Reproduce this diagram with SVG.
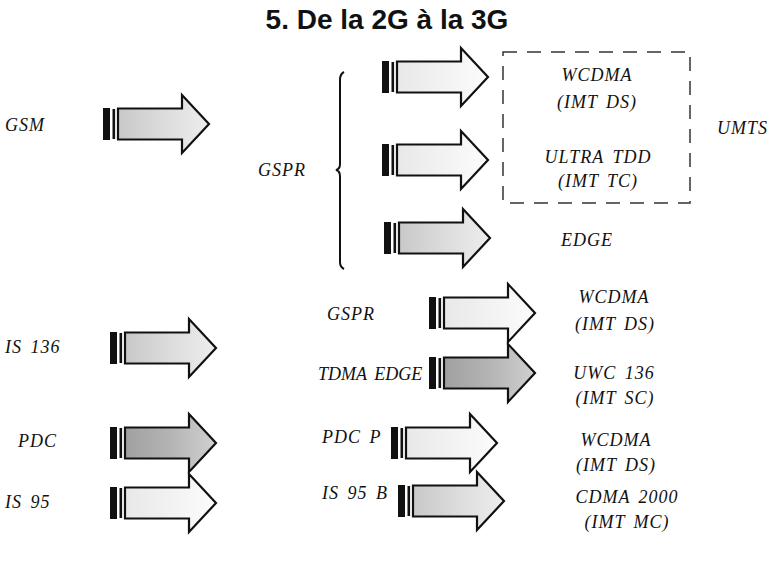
<svg xmlns="http://www.w3.org/2000/svg" xmlns:xlink="http://www.w3.org/1999/xlink" width="774" height="565" viewBox="0 0 774 565">
<style>
.t{font-family:'Liberation Serif','DejaVu Serif',serif;font-style:italic;font-size:18px;letter-spacing:1px;word-spacing:3px;fill:#111}
.m{text-anchor:middle}
.title{font-family:'Liberation Sans',Arial,sans-serif;font-weight:bold;font-size:28px;fill:#111;text-anchor:middle}
.body{stroke:#111;stroke-width:2.2;stroke-linejoin:miter}
</style>
<defs>
<linearGradient id="gLight" x1="0" y1="0" x2="1" y2="0">
<stop offset="0" stop-color="#c8c8c8"/><stop offset="0.5" stop-color="#dcdcdc"/><stop offset="1" stop-color="#ededed"/>
</linearGradient>
<linearGradient id="gWhite" x1="0" y1="0" x2="1" y2="0">
<stop offset="0" stop-color="#e8e8e8"/><stop offset="0.5" stop-color="#f2f2f2"/><stop offset="1" stop-color="#fcfcfc"/>
</linearGradient>
<linearGradient id="gDark" x1="0" y1="0" x2="1" y2="0">
<stop offset="0" stop-color="#a0a0a0"/><stop offset="0.5" stop-color="#b4b4b4"/><stop offset="1" stop-color="#d0d0d0"/>
</linearGradient>
<g id="tail">
<rect x="0" y="-16" width="7" height="32" fill="#111"/>
<rect x="9.5" y="-15" width="2.6" height="30" fill="#111"/>
</g>
<path id="body" class="body" d="M15,-15.5 H79 V-29 L106,0 L79,29 V15.5 H15 Z"/>
</defs>
<rect width="774" height="565" fill="#fff"/>
<text class="title" x="387" y="29">5. De la 2G à la 3G</text>

<g id="connectors">
<g id="arrow-gsm" transform="translate(103,124)"><use xlink:href="#body" fill="url(#gLight)"/><use xlink:href="#tail"/></g>
<g id="arrow-wcdma1" transform="translate(382,77)"><use xlink:href="#body" fill="url(#gWhite)"/><use xlink:href="#tail"/></g>
<g id="arrow-ultra" transform="translate(382,160)"><use xlink:href="#body" fill="url(#gWhite)"/><use xlink:href="#tail"/></g>
<g id="arrow-edge" transform="translate(384,238)"><use xlink:href="#body" fill="url(#gLight)"/><use xlink:href="#tail"/></g>
<g id="arrow-wcdma2" transform="translate(429,313)"><use xlink:href="#body" fill="url(#gWhite)"/><use xlink:href="#tail"/></g>
<g id="arrow-uwc" transform="translate(429,373)"><use xlink:href="#body" fill="url(#gDark)"/><use xlink:href="#tail"/></g>
<g id="arrow-is136" transform="translate(110,348)"><use xlink:href="#body" fill="url(#gLight)"/><use xlink:href="#tail"/></g>
<g id="arrow-pdc" transform="translate(110,443)"><use xlink:href="#body" fill="url(#gDark)"/><use xlink:href="#tail"/></g>
<g id="arrow-is95" transform="translate(110,503)"><use xlink:href="#body" fill="url(#gWhite)"/><use xlink:href="#tail"/></g>
<g id="arrow-wcdma3" transform="translate(391,443)"><use xlink:href="#body" fill="url(#gWhite)"/><use xlink:href="#tail"/></g>
<g id="arrow-cdma" transform="translate(398,501)"><use xlink:href="#body" fill="url(#gLight)"/><use xlink:href="#tail"/></g>
<path id="brace" d="M344,72 Q340,74 340,80 V164 Q340,169 336,170 Q340,171 340,176 V262 Q340,267 344,269" fill="none" stroke="#111" stroke-width="2"/>
</g>

<g id="umts-box">
<rect x="503" y="52" width="187" height="151" fill="none" stroke="#333" stroke-width="1.5" stroke-dasharray="14,10"/>
<text class="t m" x="597" y="81">WCDMA</text>
<text class="t m" x="597" y="108">(IMT DS)</text>
<text class="t m" x="598" y="163">ULTRA TDD</text>
<text class="t m" x="598" y="187">(IMT TC)</text>
</g>
<g id="n-umts"><text class="t" x="717" y="134">UMTS</text></g>
<g id="n-gsm"><text class="t" x="5" y="131">GSM</text></g>
<g id="n-gspr1"><text class="t" x="258" y="176">GSPR</text></g>
<g id="n-edge"><text class="t m" x="587" y="246">EDGE</text></g>

<g id="n-gspr2"><text class="t" x="327" y="320">GSPR</text></g>
<g id="n-is136"><text class="t" x="5" y="353">IS 136</text></g>
<g id="n-tdma"><text class="t" x="318" y="380" style="letter-spacing:0">TDMA EDGE</text></g>
<g id="n-wcdma2"><text class="t m" x="614" y="303">WCDMA</text><text class="t m" x="615" y="330">(IMT DS)</text></g>
<g id="n-uwc"><text class="t m" x="614" y="379">UWC 136</text><text class="t m" x="615" y="404">(IMT SC)</text></g>

<g id="n-pdc"><text class="t" x="18" y="447">PDC</text></g>
<g id="n-pdcp"><text class="t" x="322" y="443">PDC P</text></g>
<g id="n-wcdma3"><text class="t m" x="616" y="446">WCDMA</text><text class="t m" x="616" y="471">(IMT DS)</text></g>
<g id="n-is95"><text class="t" x="5" y="508">IS 95</text></g>
<g id="n-is95b"><text class="t" x="322" y="499">IS 95 B</text></g>
<g id="n-cdma"><text class="t m" x="627" y="503">CDMA 2000</text><text class="t m" x="627" y="528">(IMT MC)</text></g>
</svg>
